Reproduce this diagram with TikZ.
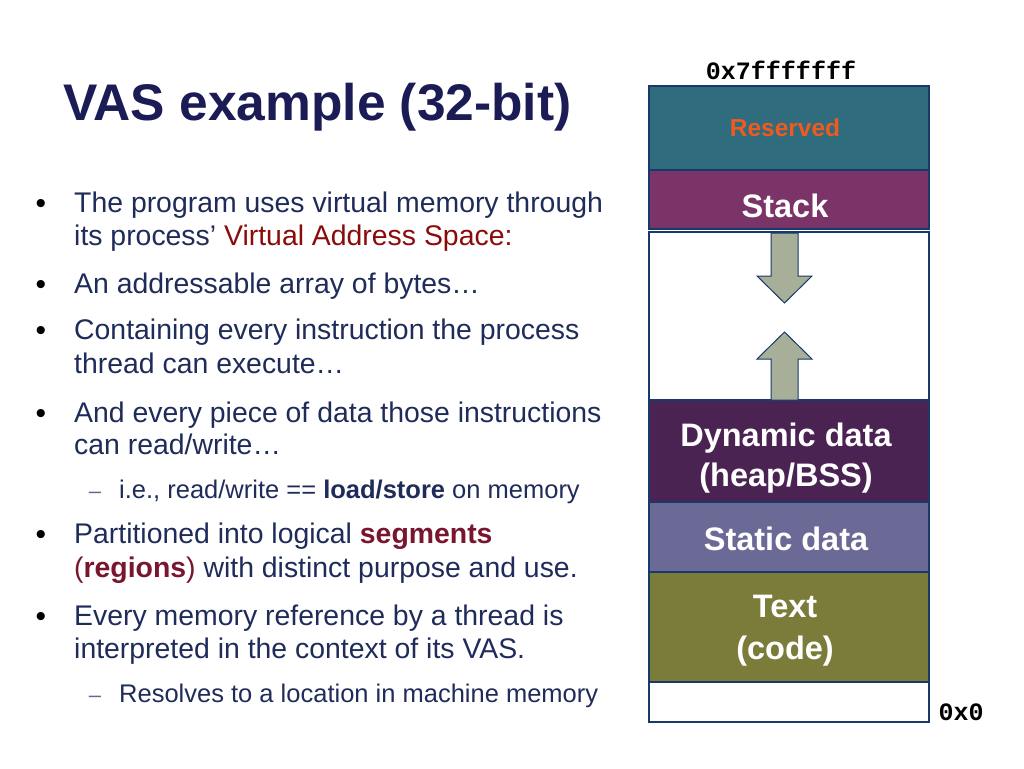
\documentclass[tikz,border=0pt]{standalone}
\usepackage{fontspec}
\setmainfont{Liberation Sans}
\newfontfamily\addrfont{Liberation Mono}

\definecolor{titleblue}{HTML}{1B1B55}
\definecolor{bodyblue}{HTML}{1F2C5A}
\definecolor{vasred}{HTML}{8B0A0A}
\definecolor{segred}{HTML}{7A1530}
\definecolor{framec}{HTML}{173A6A}
\definecolor{resc}{HTML}{2F6C7E}
\definecolor{stackc}{HTML}{7A3468}
\definecolor{dync}{HTML}{4A2352}
\definecolor{statc}{HTML}{6B6996}
\definecolor{textc}{HTML}{7B7B3A}
\definecolor{arrowc}{HTML}{A8AF98}
\definecolor{resorange}{HTML}{F05A1E}

\tikzset{
  line/.style={anchor=base west, inner sep=0pt, text=bodyblue, font=\fontsize{28.4}{34}\selectfont},
  subline/.style={line, font=\fontsize{25.5}{30}\selectfont},
  bullet/.style={anchor=base, inner sep=0pt, font=\fontsize{30}{30}\selectfont},
  subdash/.style={anchor=base, inner sep=0pt, text=bodyblue!70, font=\fontsize{22}{22}\selectfont},
  seg/.style={draw=framec, line width=2.8pt, minimum width=280pt, inner sep=0pt},
  seglabel/.style={inner sep=0pt, text=white, align=center, font=\bfseries\fontsize{32.5}{40}\selectfont},
  addr/.style={inner sep=0pt, font=\addrfont\bfseries\fontsize{25}{25}\selectfont},
  growarrow/.style={fill=arrowc, draw=framec, line width=1pt}
}

\begin{document}
\begin{tikzpicture}[x=1pt,y=-1pt]
  \useasboundingbox (0,0) rectangle (1024,768);
  \fill[white] (0,0) rectangle (1024,768);

  % title
  \node[anchor=base west, inner sep=0pt, text=titleblue, font=\bfseries\fontsize{51.5}{56}\selectfont]
    (title) at (63,120) {VAS example (32-bit)};

  % bullet list
  \node[bullet] (b1) at (41,213) {\textbullet};
  \node[line] (l1) at (74,212) {The program uses virtual memory through};
  \node[line] (l2) at (74,245) {its process’ \textcolor{vasred}{Virtual Address Space:}};
  \node[bullet] (b2) at (41,294) {\textbullet};
  \node[line] (l3) at (74,293) {An addressable array of bytes…};
  \node[bullet] (b3) at (41,340) {\textbullet};
  \node[line] (l4) at (74,339) {Containing every instruction the process};
  \node[line] (l5) at (74,373) {thread can execute…};
  \node[bullet] (b4) at (41,423) {\textbullet};
  \node[line] (l6) at (74,422) {And every piece of data those instructions};
  \node[line] (l7) at (74,454) {can read/write…};
  \node[subdash] (d1) at (95,498) {–};
  \node[subline] (l8) at (119,498) {i.e., read/write == \textbf{load/store} on memory};
  \node[bullet] (b5) at (41,544) {\textbullet};
  \node[line] (l9) at (74,543) {Partitioned into logical \textcolor{segred}{\textbf{segments}}};
  \node[line] (l10) at (74,577) {\textcolor{segred}{(\textbf{regions})} with distinct purpose and use.};
  \node[bullet] (b6) at (41,626) {\textbullet};
  \node[line] (l11) at (74,625) {Every memory reference by a thread is};
  \node[line] (l12) at (74,658) {interpreted in the context of its VAS.};
  \node[subdash] (d2) at (95,702) {–};
  \node[subline] (l13) at (119,702) {Resolves to a location in machine memory};

  % address space
  \node[seg, fill=resc, minimum height=84pt] (res) at (789,128) {};
  \node[seg, fill=stackc, minimum height=59pt] (stack) at (789,199.5) {};
  \node[seg, fill=white, minimum height=168pt] (free) at (789,316) {};
  \node[seg, fill=dync, minimum height=102pt] (dyn) at (789,451) {};
  \node[seg, fill=statc, minimum height=70pt] (stat) at (789,537) {};
  \node[seg, fill=textc, minimum height=110pt] (txt) at (789,627) {};
  \node[seg, fill=white, minimum height=40pt] (low) at (789,702) {};

  \node[seglabel, text=resorange, font=\bfseries\fontsize{24.5}{28}\selectfont]
    (reslbl) at ([shift={(-4,0)}]res.center) {Reserved};
  \node[seglabel] (stacklbl) at ([shift={(-4,6)}]stack.center) {Stack};
  \node[seglabel] (dynlbl) at ([shift={(-3,7)}]dyn.center) {Dynamic data\\(heap/BSS)};
  \node[seglabel] (statlbl) at ([shift={(-3,2)}]stat.center) {Static data};
  \node[seglabel, font=\bfseries\fontsize{32.5}{42}\selectfont]
    (txtlbl) at ([shift={(-4,4)}]txt.center) {Text\\(code)};

  \draw[growarrow] (771,233) -- (798,233) -- (798,276) -- (812,276) -- (784.5,303)
    -- (757,276) -- (771,276) -- cycle;
  \draw[growarrow] (771,400) -- (798,400) -- (798,359) -- (812,359) -- (784.5,332)
    -- (757,359) -- (771,359) -- cycle;

  \node[addr] (top) at (781,70) {0x7fffffff};
  \node[addr] (bottom) at (961,712) {0x0};
\end{tikzpicture}
\end{document}
